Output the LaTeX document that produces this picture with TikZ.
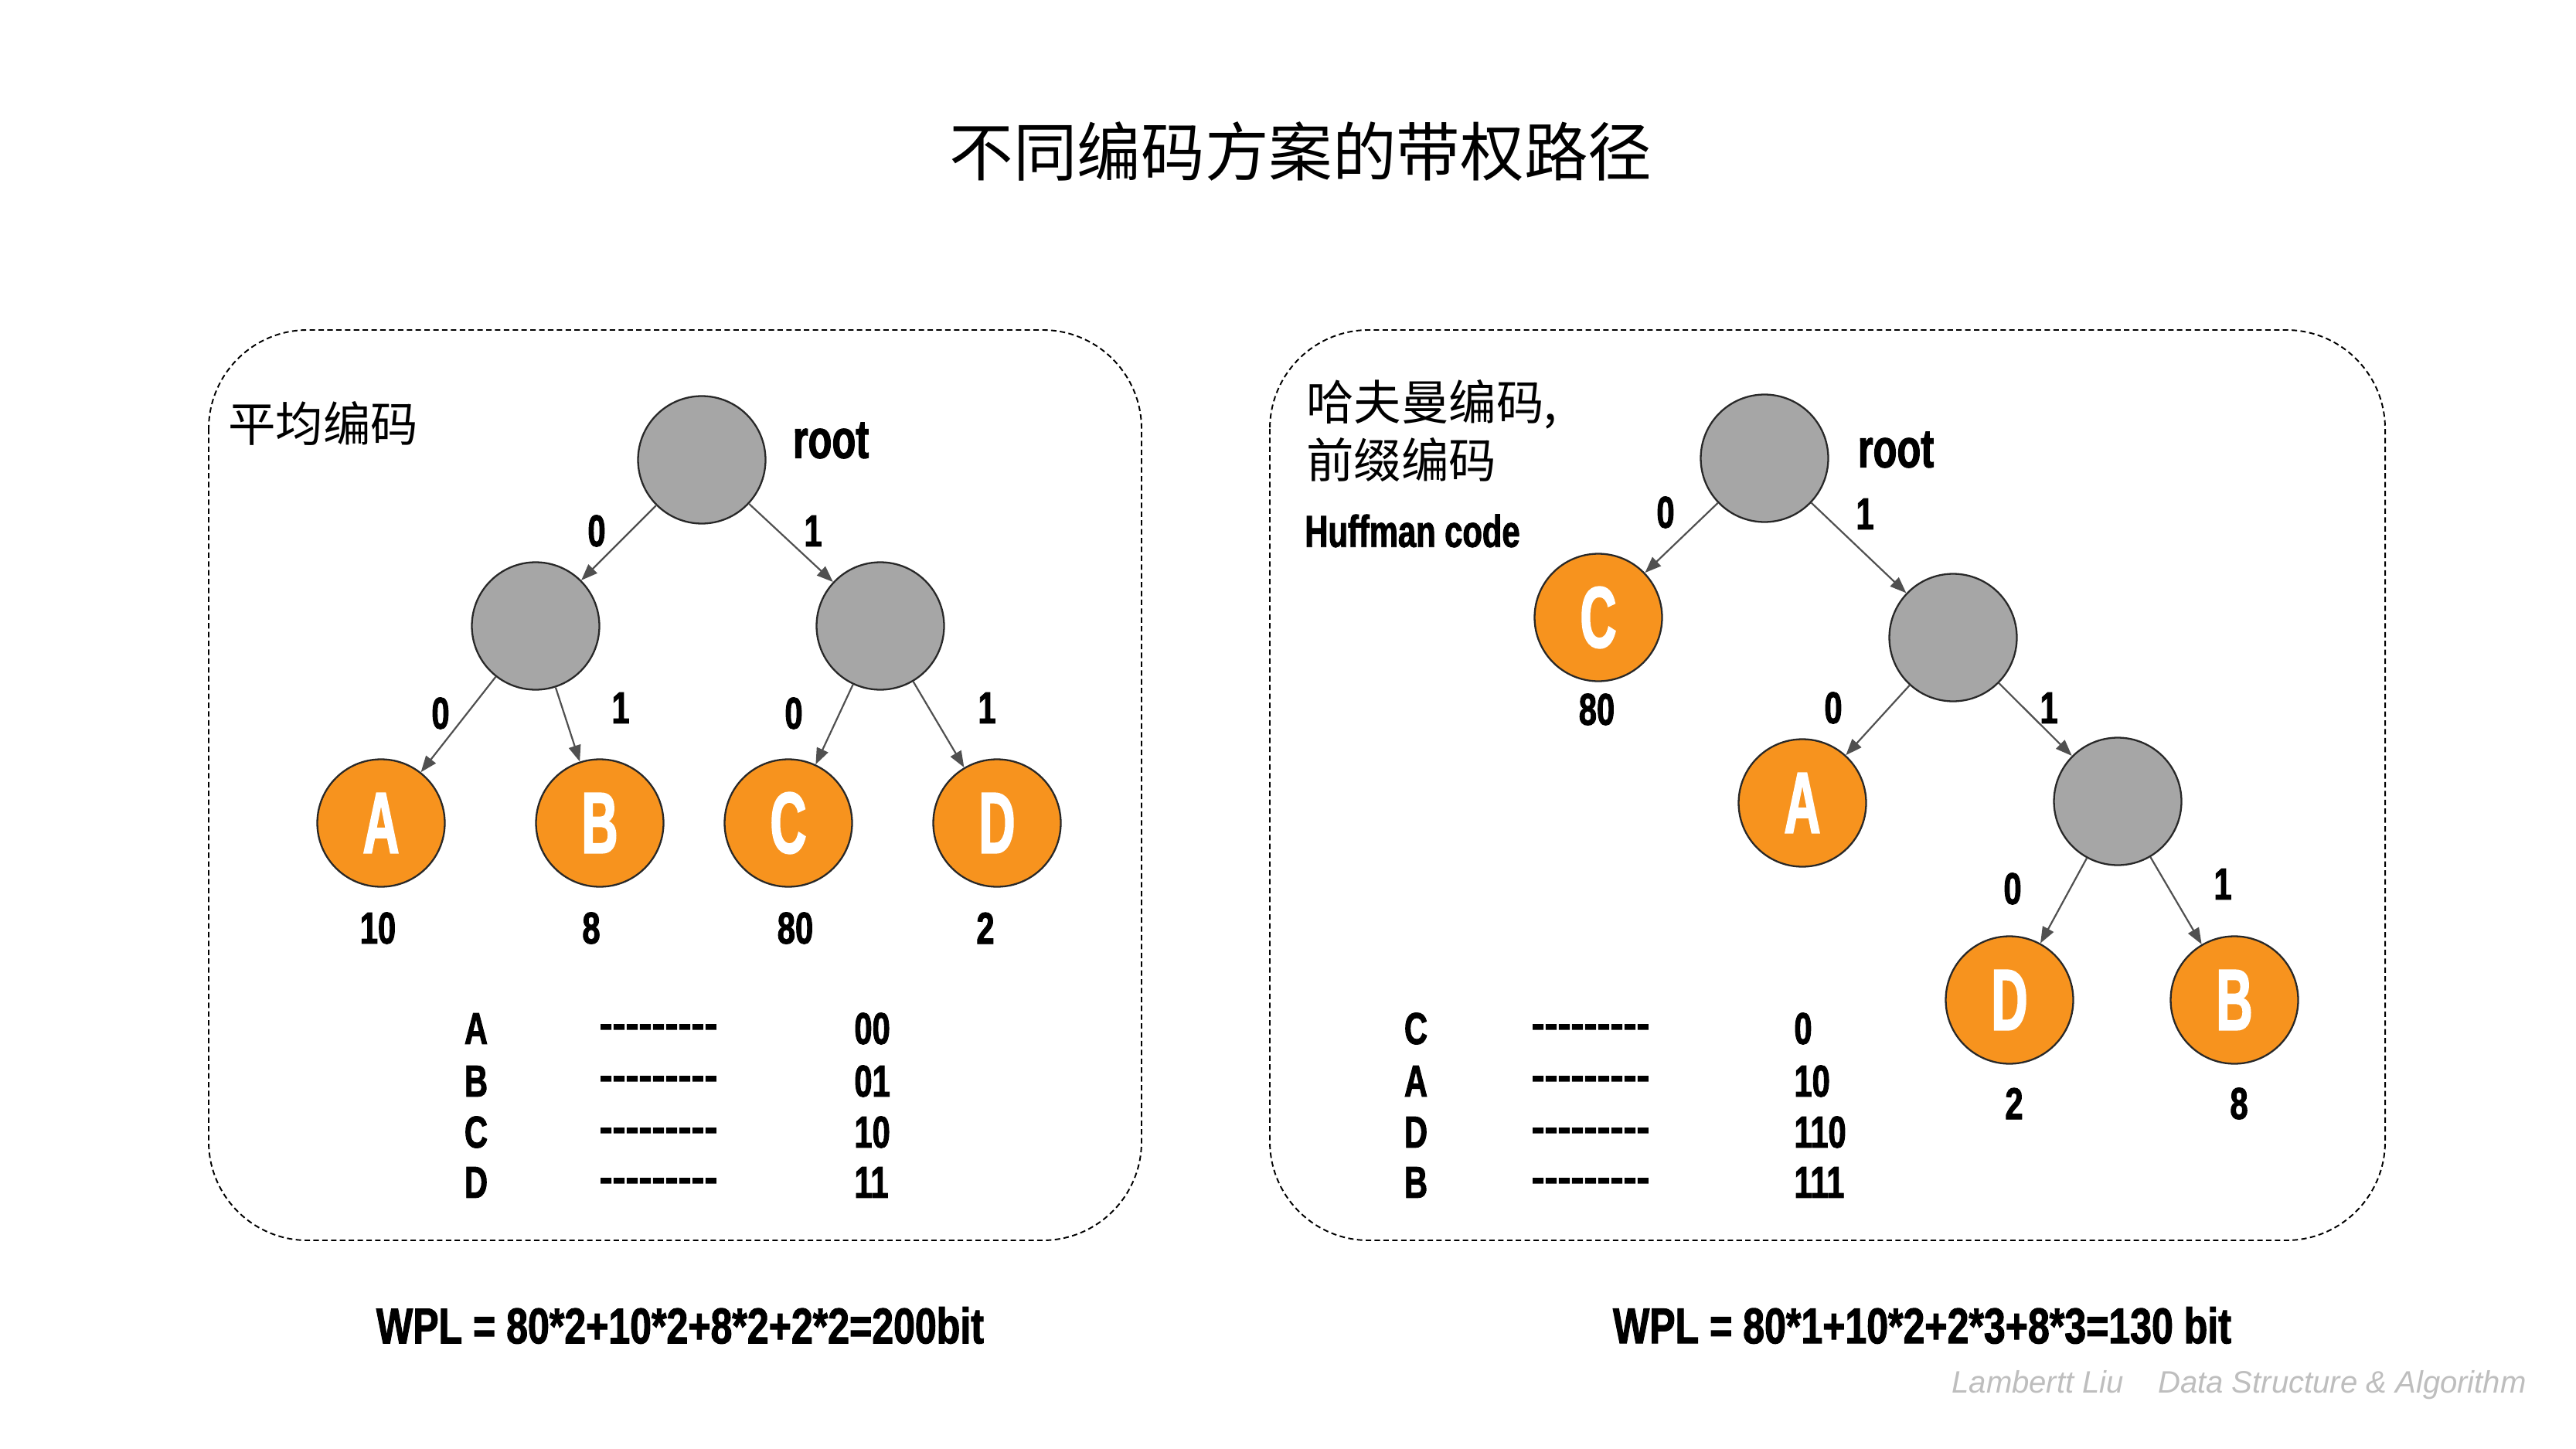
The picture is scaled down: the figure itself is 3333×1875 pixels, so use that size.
\documentclass[tikz,border=0pt]{standalone}
\usepackage{fontspec}
\usetikzlibrary{arrows.meta}
\newfontfamily\cond[FakeStretch=0.72,FakeBold=1.6,Ligatures=TeXOff]{Liberation Sans Bold}
\newfontfamily\condw[FakeStretch=0.77,FakeBold=1.6,Ligatures=TeXOff]{Liberation Sans Bold}
\newfontfamily\condn[FakeStretch=0.58,FakeBold=1.6,Ligatures=TeXOff]{Liberation Sans Bold}
\newfontfamily\dashf[FakeBold=2.5,Ligatures=TeXOff]{Liberation Sans Bold}
\newfontfamily\cjk{Noto Sans CJK SC}
\newfontfamily\wmfont{Liberation Sans}
\definecolor{orng}{RGB}{247,147,30}
\definecolor{gnode}{RGB}{166,166,166}
\definecolor{edgec}{RGB}{80,80,80}
\definecolor{wmc}{RGB}{190,190,190}
\definecolor{outl}{RGB}{40,40,40}
\begin{document}
\begin{tikzpicture}[x=0.02cm,y=-0.02cm,
  innernode/.style={circle,draw=outl,line width=1.3pt,fill=gnode,minimum size=3.3cm,inner sep=0pt},
  leafnode/.style={circle,draw=outl,line width=1.3pt,fill=orng,minimum size=3.3cm,inner sep=0pt,text=white,font=\condn\fontsize{64}{64}\selectfont},
  lbl/.style={font=\cond\fontsize{33}{33}\selectfont,inner sep=0pt},
  rootlbl/.style={font=\cond\fontsize{40}{40}\selectfont,inner sep=0pt},
  dashtxt/.style={font=\dashf\fontsize{29}{29}\selectfont,inner sep=0pt},
  wpl/.style={font=\condw\fontsize{37}{37}\selectfont,inner sep=0pt},
  cjklbl/.style={font=\cjk\fontsize{35}{35}\selectfont,inner sep=0pt,anchor=west},
  edge/.style={draw=edgec,line width=1.25pt,-{Triangle[length=12pt,width=9pt]}},
  panel/.style={draw=black,line width=1.1pt,dash pattern=on 4pt off 2.5pt,rounded corners=2.56cm}
]
\path[use as bounding box,fill=white] (0,0) rectangle (3333,1875);

% title
\node[font=\cjk\fontsize{47}{47}\selectfont,inner sep=0pt] (title) at (1683,196) {不同编码方案的带权路径};

% panels
\draw[panel] (270,427) rectangle (1477,1605);
\draw[panel] (1643,427) rectangle (3086,1605);

% ---------- left tree ----------
\node[cjklbl] (lname) at (295,548) {平均编码};
\node[innernode] (lr) at (908,595) {};
\node[rootlbl] (lrl) at (1075,570) {root};
\node[innernode] (l1) at (693,810) {};
\node[innernode] (l2) at (1139,810) {};
\node[leafnode] (la) at (493,1065) {A};
\node[leafnode] (lb) at (776,1065) {B};
\node[leafnode] (lc) at (1020,1065) {C};
\node[leafnode] (ld) at (1290,1065) {D};
\draw[edge] (lr) -- (l1);
\draw[edge] (lr) -- (l2);
\draw[edge] (l1) -- (la);
\draw[edge] (l1) -- (lb);
\draw[edge] (l2) -- (lc);
\draw[edge] (l2) -- (ld);
\node[lbl] (le1) at (772,687) {0};
\node[lbl] (le2) at (1052,687) {1};
\node[lbl] (le3) at (570,923) {0};
\node[lbl] (le4) at (803,916) {1};
\node[lbl] (le5) at (1027,923) {0};
\node[lbl] (le6) at (1277,916) {1};
\node[lbl] (lva) at (489,1201) {10};
\node[lbl] (lvb) at (765,1201) {8};
\node[lbl] (lvc) at (1029,1201) {80};
\node[lbl] (lvd) at (1275,1201) {2};
% left table
\node[lbl] (lta) at (616,1331) {A};
\node[lbl] (ltb) at (616,1399) {B};
\node[lbl] (ltc) at (616,1465) {C};
\node[lbl] (ltd) at (616,1530) {D};
\node[dashtxt] (ltda) at (852,1334) {---------};
\node[dashtxt] (ltdb) at (852,1401) {---------};
\node[dashtxt] (ltdc) at (852,1468) {---------};
\node[dashtxt] (ltdd) at (852,1533) {---------};
\node[lbl,anchor=west] (ltca) at (1105,1331) {00};
\node[lbl,anchor=west] (ltcb) at (1105,1399) {01};
\node[lbl,anchor=west] (ltcc) at (1105,1465) {10};
\node[lbl,anchor=west] (ltcd) at (1105,1530) {11};
\node[wpl] (lwpl) at (880,1715) {WPL = 80*2+10*2+8*2+2*2=200bit};

% ---------- right tree ----------
\node[cjklbl] (rname1) at (1690,523) {哈夫曼编码,};
\node[cjklbl] (rname2) at (1690,595) {前缀编码};
\node[lbl,anchor=west] (rname3) at (1688,687) {Huffman code};
\node[innernode] (rr) at (2283,593) {};
\node[rootlbl] (rrl) at (2453,582) {root};
\node[leafnode] (rc) at (2068,799) {C};
\node[innernode] (rn1) at (2527,825) {};
\node[leafnode] (ra) at (2332,1039) {A};
\node[innernode] (rn2) at (2740,1037) {};
\node[leafnode] (rd) at (2600,1294) {D};
\node[leafnode] (rb) at (2891,1294) {B};
\draw[edge] (rr) -- (rc);
\draw[edge] (rr) -- (rn1);
\draw[edge] (rn1) -- (ra);
\draw[edge] (rn1) -- (rn2);
\draw[edge] (rn2) -- (rd);
\draw[edge] (rn2) -- (rb);
\node[lbl] (re1) at (2155,663) {0};
\node[lbl] (re2) at (2413,665) {1};
\node[lbl] (re3) at (2372,916) {0};
\node[lbl] (re4) at (2651,916) {1};
\node[lbl] (re5) at (2604,1150) {0};
\node[lbl] (re6) at (2876,1144) {1};
\node[lbl] (rvc) at (2066,918) {80};
\node[lbl] (rvd) at (2606,1428) {2};
\node[lbl] (rvb) at (2897,1428) {8};
% right table
\node[lbl] (rtc) at (1832,1331) {C};
\node[lbl] (rta) at (1832,1399) {A};
\node[lbl] (rtd) at (1832,1465) {D};
\node[lbl] (rtb) at (1832,1530) {B};
\node[dashtxt] (rtdc) at (2058,1334) {---------};
\node[dashtxt] (rtda) at (2058,1401) {---------};
\node[dashtxt] (rtdd) at (2058,1468) {---------};
\node[dashtxt] (rtdb) at (2058,1533) {---------};
\node[lbl,anchor=west] (rtcc) at (2321,1331) {0};
\node[lbl,anchor=west] (rtca) at (2321,1399) {10};
\node[lbl,anchor=west] (rtcd) at (2321,1465) {110};
\node[lbl,anchor=west] (rtcb) at (2321,1530) {111};
\node[wpl] (rwpl) at (2487,1715) {WPL = 80*1+10*2+2*3+8*3=130 bit};

% watermark
\node[font=\wmfont\itshape\fontsize{22.8}{22.8}\selectfont,text=wmc,inner sep=0pt,anchor=east] (wm) at (3269,1792) {Lambertt Liu\hspace{1.1em}Data Structure \& Algorithm};
\end{tikzpicture}
\end{document}
